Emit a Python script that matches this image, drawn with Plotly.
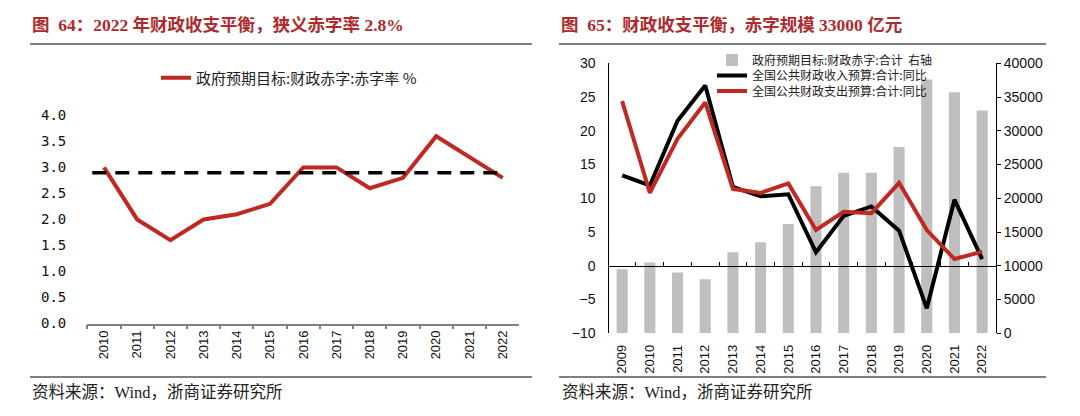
import plotly.graph_objects as go

W, H = 1080, 416

# ---------------- data ----------------
years_left = ["2010", "2011", "2012", "2013", "2014", "2015", "2016",
              "2017", "2018", "2019", "2020", "2021", "2022"]
deficit_rate = [3.0, 2.0, 1.6, 2.0, 2.1, 2.3, 3.0, 3.0, 2.6, 2.8, 3.6, 3.2, 2.8]
ref_level = 2.9

years_right = ["2009", "2010", "2011", "2012", "2013", "2014", "2015",
               "2016", "2017", "2018", "2019", "2020", "2021", "2022"]
deficit_amount = [9500, 10500, 9000, 8000, 12000, 13500, 16200,
                  21800, 23800, 23800, 27600, 37600, 35700, 33000]
revenue_yoy = [13.4, 11.9, 21.5, 26.7, 11.7, 10.3, 10.6,
               2.0, 7.4, 8.8, 5.2, -6.3, 9.8, 1.0]
expense_yoy = [24.4, 10.8, 18.8, 24.2, 11.4, 10.8, 12.2,
               5.3, 8.0, 7.8, 12.3, 5.3, 1.0, 2.1]

left_ticks = [0.0, 0.5, 1.0, 1.5, 2.0, 2.5, 3.0, 3.5, 4.0]

# ---------------- styles ----------------
RED = "#BE2A22"
TITLE_RED = "#AE2A2C"
GRAY_BAR = "#BFBFBF"
CJK = "Noto Sans CJK SC"
SANS = "Liberation Sans, Arial, sans-serif"
SERIF_TITLE = "Liberation Serif, Noto Sans CJK SC"


def px_x(p):
    return p / W


def px_y(p):
    return 1 - p / H


# plot area pixel boxes
L_X0, L_X1, L_Y0, L_Y1 = 87.3, 519.3, 115.4, 323.5
R_X0, R_X1, R_Y0, R_Y1 = 608.3, 996.0, 63.3, 333.3

r_ymin, r_ymax = -10, 30
r_dom = [px_y(R_Y1), px_y(R_Y0)]
zero_pos = r_dom[0] + (0 - r_ymin) / (r_ymax - r_ymin) * (r_dom[1] - r_dom[0])

fig = go.Figure()

# left chart
fig.add_trace(go.Scatter(
    x=years_left, y=deficit_rate, mode="lines",
    line=dict(color=RED, width=4),
    name="政府预期目标:财政赤字:赤字率 %",
    xaxis="x", yaxis="y", legend="legend",
))
fig.add_shape(type="line", xref="x", yref="y",
              x0=-0.35, x1=len(years_left) - 1, y0=ref_level, y1=ref_level,
              line=dict(color="black", width=3.5, dash="14px,9px"))

# right chart: bars on base subplot (x2, y2 right), lines on overlay (x3, y3 left)
fig.add_trace(go.Bar(
    x=years_right, y=deficit_amount, marker_color=GRAY_BAR, width=0.4,
    name="政府预期目标:财政赤字:合计  右轴",
    xaxis="x2", yaxis="y2", legend="legend2",
))
fig.add_trace(go.Scatter(
    x=years_right, y=revenue_yoy, mode="lines",
    line=dict(color="black", width=4),
    name="全国公共财政收入预算:合计:同比",
    xaxis="x3", yaxis="y3", legend="legend3",
))
fig.add_trace(go.Scatter(
    x=years_right, y=expense_yoy, mode="lines",
    line=dict(color=RED, width=4),
    name="全国公共财政支出预算:合计:同比",
    xaxis="x3", yaxis="y3", legend="legend4",
))

tickfont = dict(family=SANS, size=14, color="#111")
xtickfont = dict(family=SANS, size=13, color="#111")

legend_common = dict(xanchor="left", yanchor="middle", bgcolor="rgba(0,0,0,0)",
                     borderwidth=0)

fig.update_layout(
    width=W, height=H,
    margin=dict(l=0, r=0, t=0, b=0),
    template="none",
    paper_bgcolor="white", plot_bgcolor="rgba(0,0,0,0)",
    showlegend=True,
    barmode="overlay",
    xaxis=dict(
        domain=[px_x(L_X0), px_x(L_X1)], anchor="y",
        type="category", range=[-0.5, len(years_left) - 0.5],
        showline=True, linecolor="#808080", linewidth=1.5,
        ticks="outside", tickson="boundaries", ticklen=4, tickcolor="#808080",
        tickwidth=1.5, tickangle=-90, tickfont=xtickfont,
        showgrid=False, zeroline=False, automargin=False,
    ),
    yaxis=dict(
        domain=[px_y(L_Y1), px_y(L_Y0)], anchor="x",
        range=[0, 4], tickvals=left_ticks, tickformat=".1f",
        showline=False, showgrid=False, zeroline=False, ticks="",
        tickfont=dict(family="DejaVu Sans Mono", size=14, color="#111"),
        ticklabelstandoff=20, automargin=False,
    ),
    xaxis2=dict(
        domain=[px_x(R_X0), px_x(R_X1)], anchor="y2",
        type="category", range=[-0.5, len(years_right) - 0.5],
        showline=False, ticks="", tickangle=-90, tickfont=xtickfont,
        showgrid=False, zeroline=False, ticklabelstandoff=8, automargin=False,
    ),
    yaxis2=dict(
        domain=r_dom, anchor="x2", side="right",
        range=[0, 40000], dtick=5000, tickformat="d",
        showline=True, linecolor="black", linewidth=1,
        ticks="outside", ticklen=4, tickcolor="black",
        showgrid=False, zeroline=False, tickfont=tickfont, automargin=False,
    ),
    xaxis3=dict(
        domain=[px_x(R_X0), px_x(R_X1)], overlaying="x2", anchor="free",
        position=zero_pos, side="bottom",
        type="category", range=[-0.5, len(years_right) - 0.5],
        showline=True, linecolor="black", linewidth=1,
        ticks="inside", tickson="boundaries", ticklen=4, tickcolor="black",
        showticklabels=False, showgrid=False, zeroline=False,
        layer="above traces", automargin=False,
    ),
    yaxis3=dict(
        domain=r_dom, overlaying="y2", anchor="free", position=px_x(R_X0),
        side="left", range=[r_ymin, r_ymax], dtick=5,
        showline=True, linecolor="black", linewidth=1, ticks="",
        showgrid=False, zeroline=False, tickfont=tickfont,
        ticklabelstandoff=10, automargin=False,
    ),
    legend=dict(x=px_x(156), y=px_y(78),
                font=dict(family=CJK, size=15, color="#222"), **legend_common),
    legend2=dict(x=px_x(712), y=px_y(60),
                 font=dict(family=CJK, size=12, color="#222"), **legend_common),
    legend3=dict(x=px_x(712), y=px_y(75.5),
                 font=dict(family=CJK, size=12, color="#222"), **legend_common),
    legend4=dict(x=px_x(712), y=px_y(91),
                 font=dict(family=CJK, size=12, color="#222"), **legend_common),
)

# titles
fig.add_annotation(x=px_x(30), y=px_y(25), xref="paper", yref="paper",
                   xanchor="left", yanchor="middle", showarrow=False,
                   text="图  64：2022 年财政收支平衡，狭义赤字率 2.8%",
                   font=dict(family=SERIF_TITLE, size=17.5, color=TITLE_RED, weight="bold"))
fig.add_annotation(x=px_x(559), y=px_y(25), xref="paper", yref="paper",
                   xanchor="left", yanchor="middle", showarrow=False,
                   text="图  65：财政收支平衡，赤字规模 33000 亿元",
                   font=dict(family=SERIF_TITLE, size=17.5, color=TITLE_RED, weight="bold"))

# source notes
for x0 in (30, 560):
    fig.add_annotation(x=px_x(x0), y=px_y(392), xref="paper", yref="paper",
                       xanchor="left", yanchor="middle", showarrow=False,
                       text="资料来源：Wind，浙商证券研究所",
                       font=dict(family="Liberation Serif, Noto Sans CJK SC", size=16.5, color="#222"))

# divider lines
for (a, b) in ((30, 532), (559, 1046)):
    for yy in (44, 377):
        fig.add_shape(type="line", xref="paper", yref="paper",
                      x0=px_x(a), x1=px_x(b), y0=px_y(yy), y1=px_y(yy),
                      line=dict(color="#555555", width=1.5))

fig.write_html("out.html", config={"displayModeBar": False},
               post_script="document.body.style.margin='0';")
